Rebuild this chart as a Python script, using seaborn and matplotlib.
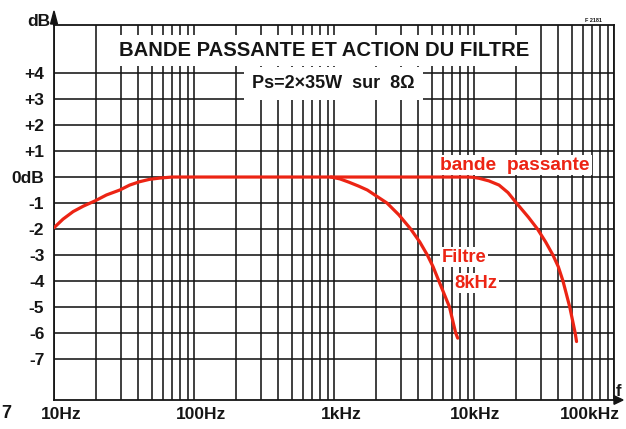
import numpy as np
import pandas as pd
import matplotlib
matplotlib.use("Agg")
import matplotlib.pyplot as plt
from matplotlib.ticker import FixedLocator, LogLocator, NullFormatter
from matplotlib.transforms import ScaledTranslation
import seaborn as sns

# Full amplifier bandwidth (Hz, dB)
bp_freq = [10, 11.6, 13.7, 16.2, 19.6, 23.7, 29.5, 34.7, 40.9, 48, 57, 70,
           9000, 9800, 10900, 12800, 15100, 17500, 20100, 24500, 28400,
           32500, 36600, 40000, 43200, 48300, 52800, 54000]
bp_db = [-1.95, -1.62, -1.33, -1.12, -0.92, -0.69, -0.5, -0.31, -0.18, -0.09,
         -0.04, 0, 0, -0.01, -0.05, -0.15, -0.31, -0.6, -1, -1.55, -2,
         -2.5, -3, -3.45, -4, -5, -6, -6.33]

# Response with the 8 kHz filter engaged
flt_freq = [950, 1100, 1280, 1500, 1730, 2100, 2390, 2900, 3530, 4100, 4640,
            5100, 5610, 6680, 7400, 7650]
flt_db = [0, -0.07, -0.2, -0.35, -0.5, -0.8, -1, -1.45, -2, -2.5, -3,
          -3.45, -4, -5, -6, -6.2]

x_ticks = [10, 100, 1000, 10000, 100000]
x_labels = ["10Hz", "100Hz", "1kHz", "10kHz", "100kHz"]
y_ticks = [4, 3, 2, 1, 0, -1, -2, -3, -4, -5, -6, -7]
y_labels = ["+4", "+3", "+2", "+1", "0dB", "-1", "-2", "-3", "-4", "-5", "-6", "-7"]

RED = "#ec2414"
INK = "#151515"

sns.set_style("white")
plt.rcParams["font.family"] = ["Liberation Sans", "DejaVu Sans"]
plt.rcParams["font.weight"] = "bold"

fig = plt.figure(figsize=(6.26, 4.29), dpi=100)
ax = fig.add_axes([54 / 626, 29 / 429, 560 / 626, 375 / 429])

df_bp = pd.DataFrame({"f": bp_freq, "dB": bp_db})
df_flt = pd.DataFrame({"f": flt_freq, "dB": flt_db})
sns.lineplot(data=df_bp, x="f", y="dB", ax=ax, color=RED, lw=2.3, zorder=5,
             sort=False)
sns.lineplot(data=df_flt, x="f", y="dB", ax=ax, color=RED, lw=2.3, zorder=5,
             sort=False)

ax.set_xscale("log")
ax.set_xlim(10, 100000)
ax.set_ylim(-8.58, 5.85)
ax.set_xlabel("")
ax.set_ylabel("")

ax.xaxis.set_major_locator(FixedLocator(x_ticks))
ax.xaxis.set_minor_locator(LogLocator(base=10, subs=np.arange(2, 10)))
ax.xaxis.set_minor_formatter(NullFormatter())
ax.set_xticks(x_ticks)
ax.set_xticklabels(x_labels)
ax.set_yticks(y_ticks)
ax.set_yticklabels(y_labels)

ax.grid(True, which="major", axis="both", color=INK, lw=1.15, zorder=1)
ax.grid(True, which="minor", axis="x", color=INK, lw=1.15, zorder=1)
ax.set_axisbelow(True)
ax.tick_params(axis="both", which="both", length=0)
ax.tick_params(axis="x", pad=5, labelsize=12.5)
ax.tick_params(axis="y", pad=7, labelsize=12.5)
for lab in ax.get_xticklabels() + ax.get_yticklabels():
    lab.set_fontweight("bold")
    lab.set_color(INK)

# nudge the frequency labels the way they sit under the grid
shifts = [7, 7, 7, 1, -24]
for lab, dx in zip(ax.get_xticklabels(), shifts):
    lab.set_transform(lab.get_transform() + ScaledTranslation(dx / 100, 0, fig.dpi_scale_trans))

for side in ["left", "bottom", "top", "right"]:
    ax.spines[side].set_visible(True)
    ax.spines[side].set_color(INK)
    ax.spines[side].set_linewidth(1.3)

# headings in white boxes over the grid
ax.text(0.483, 0.932, "BANDE PASSANTE ET ACTION DU FILTRE", transform=ax.transAxes,
        ha="center", va="center", fontsize=14.6, fontweight="bold", color=INK, zorder=6,
        bbox=dict(boxstyle="square,pad=0.3", fc="white", ec="none"))
ax.text(0.499, 0.843, "Ps=2×35W  sur  8Ω", transform=ax.transAxes,
        ha="center", va="center", fontsize=13, fontweight="bold", color=INK, zorder=6,
        bbox=dict(boxstyle="square,pad=0.45", fc="white", ec="none"))

# curve annotations
ax.text(19600, 0.46, "bande  passante", ha="center", va="center", fontsize=13.8,
        fontweight="bold", color=RED, zorder=6,
        bbox=dict(boxstyle="square,pad=0.1", fc="white", ec="none"))
ax.text(8500, -3.08, "Filtre", ha="center", va="center", fontsize=13.2,
        fontweight="bold", color=RED, zorder=6,
        bbox=dict(boxstyle="square,pad=0.1", fc="white", ec="none"))
ax.text(10300, -4.08, "8kHz", ha="center", va="center", fontsize=13.2,
        fontweight="bold", color=RED, zorder=6,
        bbox=dict(boxstyle="square,pad=0.1", fc="white", ec="none"))

# axis arrows and their letters
fig.patches.append(matplotlib.patches.FancyArrow(
    54 / 626, 404 / 429, 0, 14 / 429, width=0.0015, head_width=0.011,
    head_length=13 / 429, length_includes_head=True, color=INK,
    transform=fig.transFigure))
fig.patches.append(matplotlib.patches.FancyArrow(
    614 / 626, 29 / 429, 9 / 626, 0, width=0.002, head_width=0.02,
    head_length=9 / 626, length_includes_head=True, color=INK,
    transform=fig.transFigure))
fig.text(50 / 626, 408 / 429, "dB", ha="right", va="center", fontsize=12.5,
         fontweight="bold", color=INK)
fig.text(618 / 626, 37 / 429, "f", ha="center", va="center", fontsize=12,
         fontweight="bold", color=INK)
fig.text(593 / 626, 409 / 429, "F 2181", ha="center", va="center", fontsize=4,
         color=INK)
fig.text(1 / 626, 16 / 429, "7", ha="left", va="center", fontsize=13,
         fontweight="bold", color=INK)

fig.savefig("out.png", dpi=100, facecolor="white")
